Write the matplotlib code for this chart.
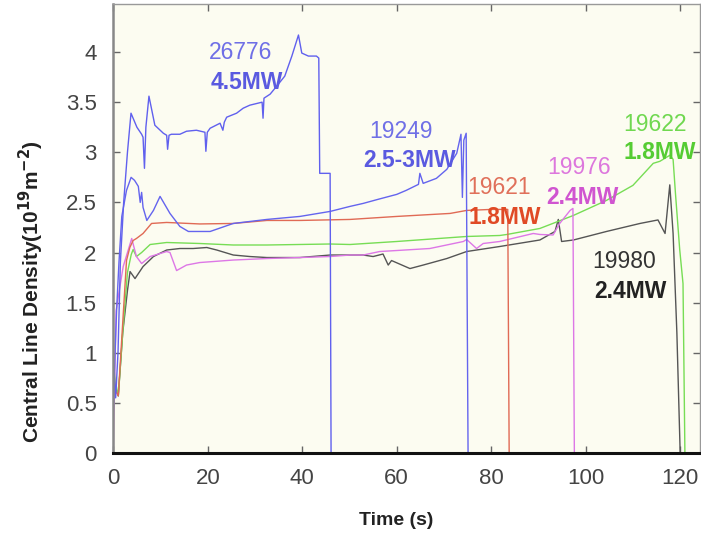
import matplotlib
matplotlib.use('Agg')
import matplotlib.pyplot as plt

plt.rcParams['font.family'] = ['Liberation Sans', 'DejaVu Sans']

# shot 26776, 4.5MW
t_26776 = [0, 0.5, 1.0, 1.5, 2.2, 3.0, 3.75, 5.0, 6.0, 6.3, 6.6, 6.9, 7.55, 8.8, 10.6, 11.3,
           11.5, 11.8, 12.3, 14.1, 15.5, 17.6, 19.4, 19.6, 19.9, 20.5, 22.6, 23.2, 23.5, 24.0,
           26.1, 27.5, 28.9, 31.5, 31.7, 31.9, 33.2, 34.6, 36.3, 37.8, 39.2, 39.9, 41.3, 43.0,
           43.5, 43.7, 45.5, 45.9, 46.1]
d_26776 = [0.9, 0.55, 1.0, 1.9, 2.5, 3.0, 3.39, 3.25, 3.18, 3.15, 2.84, 3.25, 3.56, 3.27, 3.19, 3.17,
           3.03, 3.17, 3.18, 3.18, 3.21, 3.22, 3.2, 3.01, 3.2, 3.24, 3.29, 3.22, 3.3, 3.35,
           3.39, 3.44, 3.47, 3.5, 3.34, 3.54, 3.58, 3.66, 3.76, 3.96, 4.17, 3.99, 3.96, 3.96,
           3.94, 2.79, 2.79, 2.79, 0]

# shot 19249, 2.5-3MW
t_19249 = [0, 0.4, 0.7, 1.2, 1.8, 2.8, 3.77, 4.5, 5.3, 5.7, 6.0, 6.3, 7.1, 8.5, 9.9, 12.0, 14.1,
           15.9, 18.3, 20.5, 25.4, 32.5, 39.5, 45.9, 50.1, 52.9, 56, 60, 62, 64.6, 64.9, 65.6,
           68.4, 70.6, 72.7, 73.6, 73.9, 74.2, 74.7, 75.1]
d_19249 = [0.4, 1.03, 1.42, 1.9, 2.36, 2.62, 2.75, 2.72, 2.66, 2.5, 2.6, 2.45, 2.32, 2.42, 2.56, 2.39, 2.26,
           2.21, 2.21, 2.21, 2.29, 2.33, 2.36, 2.41, 2.46, 2.49, 2.53, 2.58, 2.62, 2.68, 2.79, 2.69,
           2.74, 2.83, 2.99, 3.18, 2.55, 3.12, 3.19, 0]

# shot 19621, 1.8MW
t_19621 = [0, 0.5, 1.06, 2.0, 2.8, 3.5, 4.2, 4.9, 6.3, 8.1, 11.3, 18.3, 25.4, 32.5, 39.5, 50.1,
           60, 71.3, 74.8, 80, 83.5, 83.8]
d_19621 = [0.8, 0.62, 0.57, 1.3, 1.92, 2.05, 2.12, 2.14, 2.19, 2.29, 2.30, 2.285, 2.29, 2.32, 2.32, 2.33,
           2.36, 2.39, 2.42, 2.43, 2.43, 0]

# shot 19622, 1.8MW
t_19622 = [0, 0.5, 1.06, 2.0, 3.0, 3.8, 4.2, 4.9, 6.0, 7.8, 11.3, 18.3, 25.4, 32.5, 45.9, 50.1,
           60, 74.8, 81.8, 83.3, 90.3, 97.4, 104.4, 110, 114.3, 115.7, 117.8, 118.5, 119.0,
           119.9, 120.6, 121.0]
d_19622 = [0.9, 0.7, 0.57, 1.2, 1.8, 1.98, 2.03, 1.96, 2.0, 2.08, 2.10, 2.09, 2.075, 2.075, 2.085, 2.08,
           2.11, 2.16, 2.17, 2.18, 2.24, 2.37, 2.52, 2.67, 2.89, 2.91, 2.97, 2.93, 2.59,
           2.03, 1.69, 0]

# shot 19976, 2.4MW
t_19976 = [0, 0.1, 0.6, 1.2, 2.1, 3.0, 3.9, 4.9, 6.0, 7.8, 11.3, 12.0, 13.4, 15.5, 18.3, 25.4,
           32.5, 39.5, 45.9, 50.1, 52.9, 56.4, 60, 67, 74.1, 74.8, 76.9, 78.3, 81.8, 88.9, 90.3,
           93.1, 94.5, 96.7, 97.3, 97.6]
d_19976 = [0, 0.3, 1.42, 1.6, 1.86, 2.0, 2.14, 1.96, 1.89, 1.96, 2.01, 2.0, 1.82, 1.875, 1.90, 1.925,
           1.94, 1.95, 1.96, 1.975, 1.975, 2.01, 2.02, 2.04, 2.11, 2.13, 2.04, 2.09, 2.11, 2.19, 2.18,
           2.175, 2.29, 2.42, 2.44, 0]

# shot 19980, 2.4MW
t_19980 = [0, 0.5, 1.06, 2.0, 3.0, 3.55, 4.6, 6.3, 8.5, 11.3, 14.1, 16.9, 19.8, 21.9, 25.4, 28.9,
           32.5, 39.5, 45.9, 52.9, 55, 57.1, 58.2, 58.9, 62.8, 65.6, 70.6, 74.8, 81.8, 90.3, 93.5,
           94.2, 94.9, 97.4, 104.4, 111.5, 115.3, 116.8, 117.8, 118.5, 119.3, 120.0]
d_19980 = [0.85, 0.65, 0.57, 1.2, 1.62, 1.81, 1.74, 1.86, 1.96, 2.025, 2.04, 2.04, 2.05, 2.025, 1.975, 1.96,
           1.95, 1.95, 1.975, 1.975, 1.96, 1.985, 1.875, 1.92, 1.84, 1.875, 1.94, 2.01, 2.06, 2.125, 2.21,
           2.33, 2.11, 2.125, 2.21, 2.29, 2.325, 2.19, 2.675, 2.19, 1.2, 0]

x_ticks = [0, 20, 40, 60, 80, 100, 120]
y_ticks = [0, 0.5, 1, 1.5, 2, 2.5, 3, 3.5, 4]
y_tick_labels = ['0', '0.5', '1', '1.5', '2', '2.5', '3', '3.5', '4']

fig = plt.figure(figsize=(7.01, 5.41), dpi=100)
ax = fig.add_axes([0.1616, 0.1627, 0.8370, 0.8300])
ax.set_facecolor('#fcfcf1')

ax.plot(t_19980, d_19980, color='#555555', lw=1.0)
ax.plot(t_19622, d_19622, color='#77dd55', lw=1.0)
ax.plot(t_19976, d_19976, color='#dd77e6', lw=1.0)
ax.plot(t_19621, d_19621, color='#e06a55', lw=1.0)
ax.plot(t_19249, d_19249, color='#6464ee', lw=1.0)
ax.plot(t_26776, d_26776, color='#6060ee', lw=1.0)

# shot labels (shot number, heating power)
ax.text(26.9, 4.00, '26776', color='#6f6fe6', fontsize=16.5, ha='center', va='center')
ax.text(28.2, 3.70, '4.5MW', color='#5a5ae0', fontsize=16.5, fontweight='bold', ha='center', va='center')
ax.text(61.0, 3.21, '19249', color='#6f6fe6', fontsize=16.5, ha='center', va='center')
ax.text(62.8, 2.92, '2.5-3MW', color='#5a5ae0', fontsize=16.5, fontweight='bold', ha='center', va='center')
ax.text(81.6, 2.65, '19621', color='#e0705a', fontsize=16.5, ha='center', va='center')
ax.text(82.9, 2.35, '1.8MW', color='#e04a25', fontsize=16.5, fontweight='bold', ha='center', va='center')
ax.text(98.6, 2.85, '19976', color='#dd77dd', fontsize=16.5, ha='center', va='center')
ax.text(99.4, 2.55, '2.4MW', color='#d055d0', fontsize=16.5, fontweight='bold', ha='center', va='center')
ax.text(114.6, 3.28, '19622', color='#70d850', fontsize=16.5, ha='center', va='center')
ax.text(115.7, 3.00, '1.8MW', color='#55cc33', fontsize=16.5, fontweight='bold', ha='center', va='center')
ax.text(108.1, 1.91, '19980', color='#333333', fontsize=16.5, ha='center', va='center')
ax.text(109.5, 1.61, '2.4MW', color='#222222', fontsize=16.5, fontweight='bold', ha='center', va='center')

ax.set_xlim(0, 124.2)
ax.set_ylim(0, 4.48)
ax.set_xticks(x_ticks)
ax.set_yticks(y_ticks)
ax.set_yticklabels(y_tick_labels)
ax.tick_params(direction='in', length=5, width=1, color='#666666', labelcolor='#444444',
               labelsize=16, top=True, right=True)
ax.tick_params(axis='y', pad=12)
ax.tick_params(axis='x', pad=11)

for side in ['top', 'right']:
    ax.spines[side].set_color('#999999')
    ax.spines[side].set_linewidth(1.0)
ax.spines['left'].set_color('#888888')
ax.spines['left'].set_linewidth(1.8)
ax.spines['bottom'].set_color('#111111')
ax.spines['bottom'].set_linewidth(2.2)

ax.set_xlabel('Time (s)', fontsize=14, fontweight='bold', color='#222222')
ax.xaxis.set_label_coords(0.483, -0.132)
ax.set_ylabel('Central Line Density(10$^{\\mathbf{19}}$m$^{\\mathbf{-2}}$)', fontsize=15,
              fontweight='bold', color='#222222')
ax.yaxis.set_label_coords(-0.115, 0.36)

fig.savefig('out.png', dpi=100)
